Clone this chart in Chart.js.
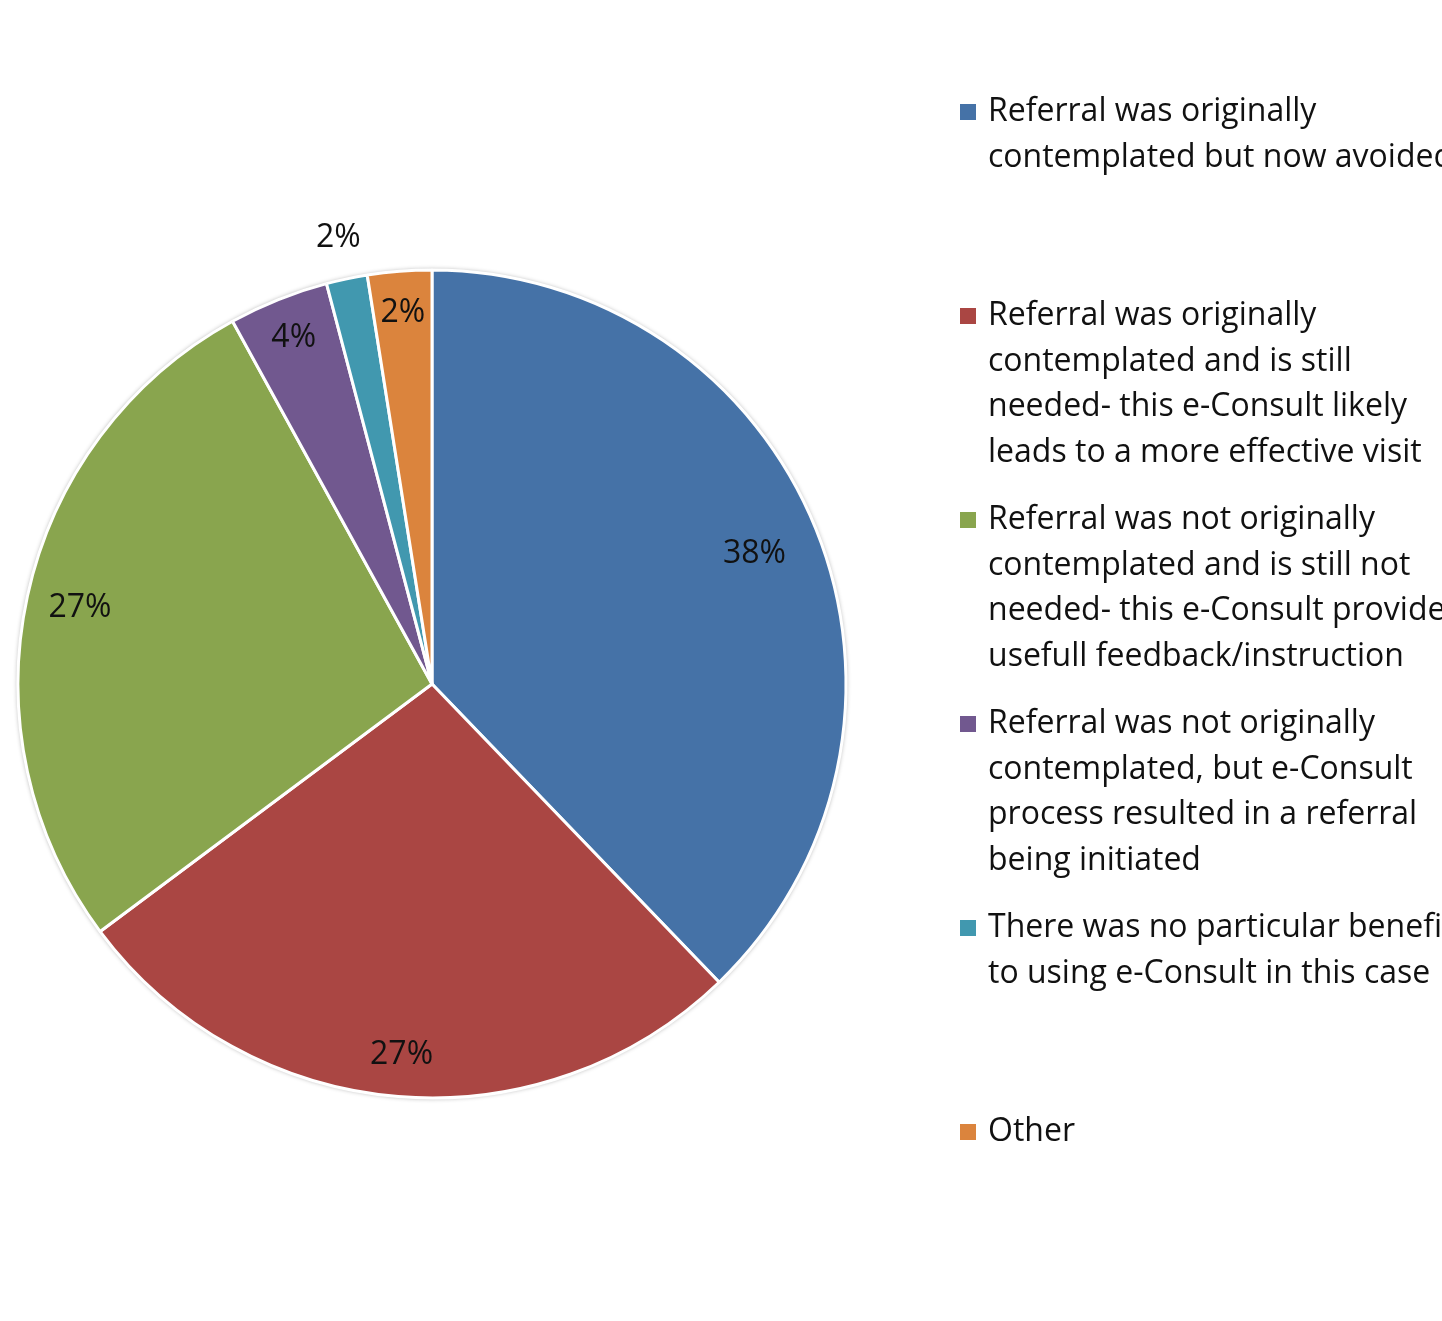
<!DOCTYPE html>
<html>
<head>
<meta charset="utf-8">
<script src="https://cdn.jsdelivr.net/npm/chart.js@4/dist/chart.umd.min.js"></script>
<style>
  html, body { margin: 0; padding: 0; background: #ffffff; }
  #wrap { width: 1442px; height: 1321px; position: relative; }
</style>
</head>
<body>
<div id="wrap"><canvas id="c" width="1442" height="1321"></canvas></div>
<script>
// ---- Data ----
const categories = [
  ["Referral was originally", "contemplated but now avoided"],
  ["Referral was originally", "contemplated and is still", "needed- this e-Consult likely", "leads to a more effective visit"],
  ["Referral was not originally", "contemplated and is still not", "needed- this e-Consult provided", "usefull feedback/instruction"],
  ["Referral was not originally", "contemplated, but e-Consult", "process resulted in a referral", "being initiated"],
  ["There was no particular benefit", "to using e-Consult in this case"],
  ["Other"]
];
const values = [37.8, 27.0, 27.2, 3.9, 1.6, 2.5];
const valueLabels = ["38%", "27%", "27%", "4%", "2%", "2%"];
const colors = ["#4572A7", "#AA4643", "#89A54E", "#71588F", "#4198AF", "#DB843D"];

const FONT = "'Open Sans', Lato, sans-serif";

const CX = 432, CY = 684, R = 414;

// shadow behind the pie
const shadowPlugin = {
  id: 'pieShadow',
  beforeDatasetsDraw(chart) {
    const meta = chart.getDatasetMeta(0);
    const a = meta.data[0];
    if (!a) return;
    const ctx = chart.ctx;
    ctx.save();
    ctx.beginPath();
    ctx.arc(a.x, a.y, a.outerRadius, 0, Math.PI * 2);
    ctx.fillStyle = '#ffffff';
    ctx.shadowColor = 'rgba(0,0,0,0.45)';
    ctx.shadowBlur = 5;
    ctx.fill();
    ctx.restore();
  }
};

// data labels placed along each slice's mid-angle
const labelPlugin = {
  id: 'sliceLabels',
  afterDatasetsDraw(chart, args, opts) {
    const ctx = chart.ctx;
    const meta = chart.getDatasetMeta(0);
    ctx.save();
    ctx.font = opts.font;
    ctx.fillStyle = opts.color;
    ctx.textAlign = 'center';
    ctx.textBaseline = 'middle';
    meta.data.forEach((arc, i) => {
      const mid = (arc.startAngle + arc.endAngle) / 2;
      const r = arc.outerRadius * opts.radiusFactors[i];
      ctx.fillText(valueLabels[i], arc.x + Math.cos(mid) * r, arc.y + Math.sin(mid) * r);
    });
    ctx.restore();
  }
};

// legend on the right, clipped by the canvas edge like the reference
const legendPlugin = {
  id: 'sideLegend',
  afterDraw(chart, args, opts) {
    const ctx = chart.ctx;
    const labels = chart.data.labels;
    const bg = chart.data.datasets[0].backgroundColor;
    ctx.save();
    ctx.font = opts.font;
    ctx.textBaseline = 'middle';
    ctx.textAlign = 'left';
    labels.forEach((lines, i) => {
      const y0 = opts.top + i * opts.step;
      ctx.fillStyle = bg[i];
      ctx.fillRect(opts.boxX, y0 - opts.box / 2, opts.box, opts.box);
      ctx.fillStyle = opts.color;
      lines.forEach((t, j) => {
        ctx.fillText(t, opts.textX, y0 + j * opts.lineHeight);
      });
    });
    ctx.restore();
  }
};

new Chart(document.getElementById('c'), {
  type: 'pie',
  data: {
    labels: categories,
    datasets: [{
      data: values,
      backgroundColor: colors,
      borderColor: '#ffffff',
      borderWidth: 3
    }]
  },
  options: {
    responsive: false,
    animation: false,
    radius: R,
    layout: {
      padding: { left: CX - R, top: CY - R, right: 1442 - (CX + R), bottom: 1321 - (CY + R) }
    },
    plugins: {
      legend: { display: false },
      tooltip: { enabled: false },
      sliceLabels: {
        font: "32px " + FONT,
        color: '#111111',
        radiusFactors: [0.84, 0.9, 0.87, 0.9, 1.1, 0.9]
      },
      sideLegend: {
        font: "32px " + FONT,
        color: '#111111',
        top: 112,
        step: 204,
        lineHeight: 45.5,
        box: 16,
        boxX: 960,
        textX: 988
      }
    }
  },
  plugins: [shadowPlugin, labelPlugin, legendPlugin]
});
</script>
</body>
</html>
